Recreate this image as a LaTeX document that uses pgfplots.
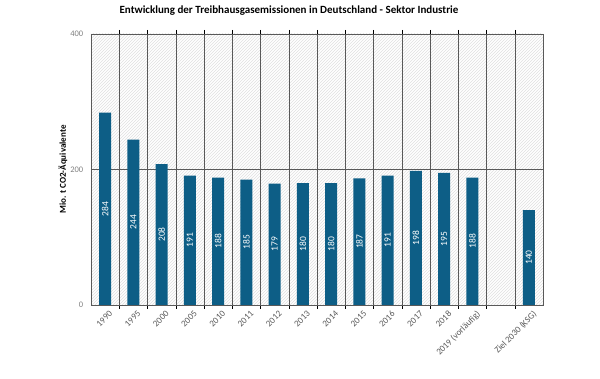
\documentclass[border=0pt]{standalone}
\usepackage{pgfplots}
\pgfplotsset{compat=1.18}
\usepackage{fontspec}
\setmainfont{Carlito}
\usetikzlibrary{patterns}
\definecolor{barblue}{HTML}{0D5E86}
\definecolor{tickgray}{HTML}{595959}
\begin{document}
\begin{tikzpicture}[x=1pt,y=1pt]
\path[use as bounding box] (-91,-74) rectangle (509,305);
\begin{axis}[
  at={(0,0)}, anchor=south west,
  scale only axis,
  width=452pt, height=271pt,
  /pgf/number format/assume math mode=true,
  xmin=-0.5, xmax=15.5,
  ymin=0, ymax=400,
  ytick={0,200,400},
  ymajorgrids,
  major grid style={gray!70!black, line width=0.4pt},
  xtick={0,...,15},
  xticklabels={1990,1995,2000,2005,2010,2011,2012,2013,2014,2015,2016,2017,2018,2019 (vorläufig),,Ziel 2030 (KSG)},
  major x tick style={draw=none},
  minor xtick={0.5,1.5,...,14.5},
  xminorgrids,
  minor grid style={gray!70!black, line width=0.4pt},
  minor tick length=4pt,
  extra x ticks={-0.5,15.5}, extra x tick labels={}, extra x tick style={major tick length=4pt, tick style={black}, grid=none},
  minor x tick style={black},
  tick align=outside,
  ytick style={draw=none},
  xticklabel style={rotate=45, anchor=north east, font=\fontsize{9}{10}\selectfont, text=tickgray, inner sep=1pt, xshift=3pt, yshift=-2pt},
  yticklabel style={font=\fontsize{8.5}{10}\selectfont, text=gray},
  axis line style={gray!70!black},
  axis background/.style={fill=white, postaction={pattern=north east lines, pattern color=gray!24}},
  ylabel={Mio. t CO2-Äquivalente},
  ylabel style={at={(axis description cs:-0.062,0.5)}, anchor=center, font=\bfseries\fontsize{9}{11}\selectfont},
  title={Entwicklung der Treibhausgasemissionen in Deutschland - Sektor Industrie},
  title style={at={(axis description cs:0.438,1.063)}, anchor=center, font=\bfseries\fontsize{11}{13}\selectfont},
  ybar, bar width=0.42,
  nodes near coords,
  visualization depends on={y \as \rawy},
  every node near coord/.append style={yshift=-\rawy*0.33875pt, anchor=center, rotate=90, text=white, font=\fontsize{9.5}{10}\selectfont},
]
\addplot[fill=barblue, draw=none] coordinates {
(0,284) (1,244) (2,208) (3,191) (4,188) (5,185) (6,179) (7,180) (8,180) (9,187) (10,191) (11,198) (12,195) (13,188) (15,140)
};
\end{axis}
\end{tikzpicture}
\end{document}
